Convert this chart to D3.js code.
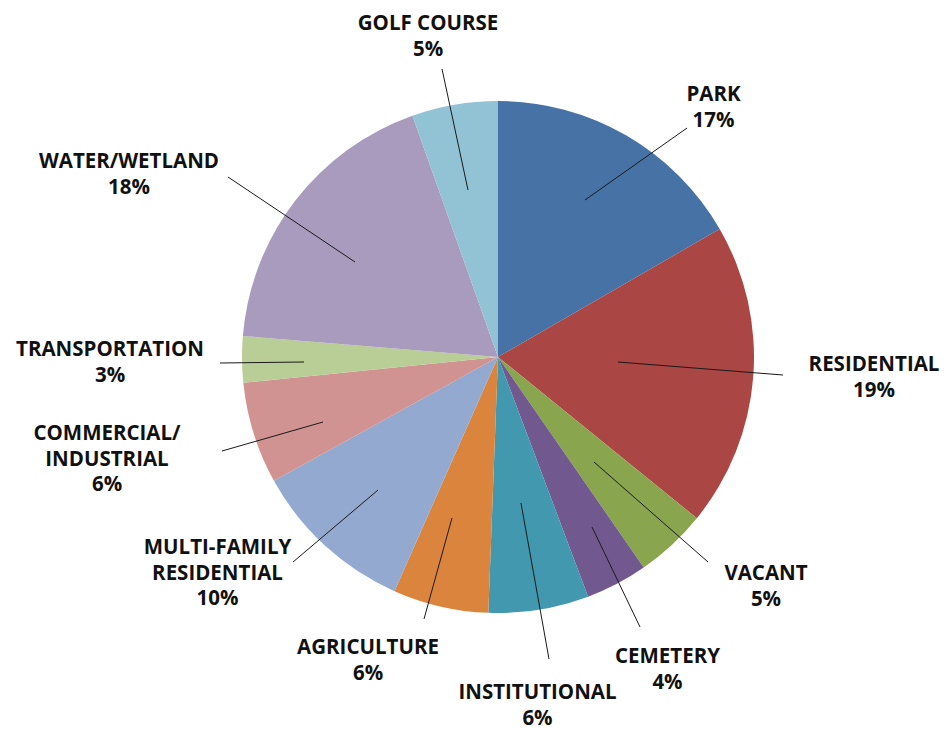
<!DOCTYPE html>
<html>
<head>
<meta charset="utf-8">
<script src="https://cdn.jsdelivr.net/npm/d3@7"></script>
<style>
  html, body { margin: 0; padding: 0; background: #fff; }
  svg { display: block; }
  text { font-family: "Open Sans", "DejaVu Sans", sans-serif; font-weight: 700; fill: #111; }
</style>
</head>
<body>
<svg id="chart" width="948" height="731"></svg>
<script>
// ---- data ----
const categories = ["PARK", "RESIDENTIAL", "VACANT", "CEMETERY", "INSTITUTIONAL", "AGRICULTURE",
  "MULTI-FAMILY RESIDENTIAL", "COMMERCIAL/ INDUSTRIAL", "TRANSPORTATION", "WATER/WETLAND", "GOLF COURSE"];
const values = [16.6, 19.1, 4.5, 3.9, 6.3, 6.0, 10.3, 6.4, 2.9, 18.2, 5.4];
const percentLabels = ["17%", "19%", "5%", "4%", "6%", "6%", "10%", "6%", "3%", "18%", "5%"];
const labelLines = [
  ["PARK"], ["RESIDENTIAL"], ["VACANT"], ["CEMETERY"], ["INSTITUTIONAL"], ["AGRICULTURE"],
  ["MULTI-FAMILY", "RESIDENTIAL"], ["COMMERCIAL/", "INDUSTRIAL"], ["TRANSPORTATION"], ["WATER/WETLAND"], ["GOLF COURSE"]
];
const colors = ["#4672A5", "#AA4643", "#89A54E", "#71588F", "#4198AF", "#DB843D",
  "#93A9CF", "#D19392", "#B9CD96", "#A99BBD", "#92C3D5"];

// ---- layout (offsets from pie centre) ----
const cx = 498, cy = 357, R = 256;
const leaderInner = [[87,-157],[120,5],[96,105],[94,170],[23,146],[-46,161],[-120,133],[-175,65],[-194,5],[-143,-95],[-30,-167]];
const leaderOuter = [[189,-229],[285,18],[210,205],[142,270],[51,302],[-74,262],[-205,205],[-276,94],[-278,6],[-270,-180],[-56,-288]];
const labelPos = [[215.5,-256],[376,14],[268,223],[169.5,306],[39.5,342],[-130,297],[-280.5,197],[-391,83],[-388,-1],[-369,-189],[-70,-327]];
const lineGap = 25.5;

const svg = d3.select("#chart");
const g = svg.append("g").attr("transform", `translate(${cx},${cy})`);

const pie = d3.pie().sort(null).value(d => d)(values);
const arc = d3.arc().innerRadius(0).outerRadius(R);

g.selectAll("path.slice").data(pie).enter().append("path")
  .attr("class", "slice")
  .attr("d", arc)
  .attr("fill", (d, i) => colors[i]);

g.selectAll("line.leader").data(pie).enter().append("line")
  .attr("class", "leader")
  .attr("x1", (d, i) => leaderInner[i][0]).attr("y1", (d, i) => leaderInner[i][1])
  .attr("x2", (d, i) => leaderOuter[i][0]).attr("y2", (d, i) => leaderOuter[i][1])
  .attr("stroke", "#1a1a1a").attr("stroke-width", 1);

const labels = g.selectAll("text.lbl").data(pie).enter().append("text")
  .attr("class", "lbl")
  .attr("text-anchor", "middle")
  .attr("font-size", 20.5)
  .attr("x", (d, i) => labelPos[i][0])
  .attr("y", (d, i) => labelPos[i][1]);

labels.each(function(d, i) {
  const t = d3.select(this);
  const lines = labelLines[i].concat([percentLabels[i]]);
  lines.forEach((s, k) => {
    t.append("tspan").attr("x", labelPos[i][0]).attr("dy", k === 0 ? 0 : lineGap).text(s);
  });
});
</script>
</body>
</html>
